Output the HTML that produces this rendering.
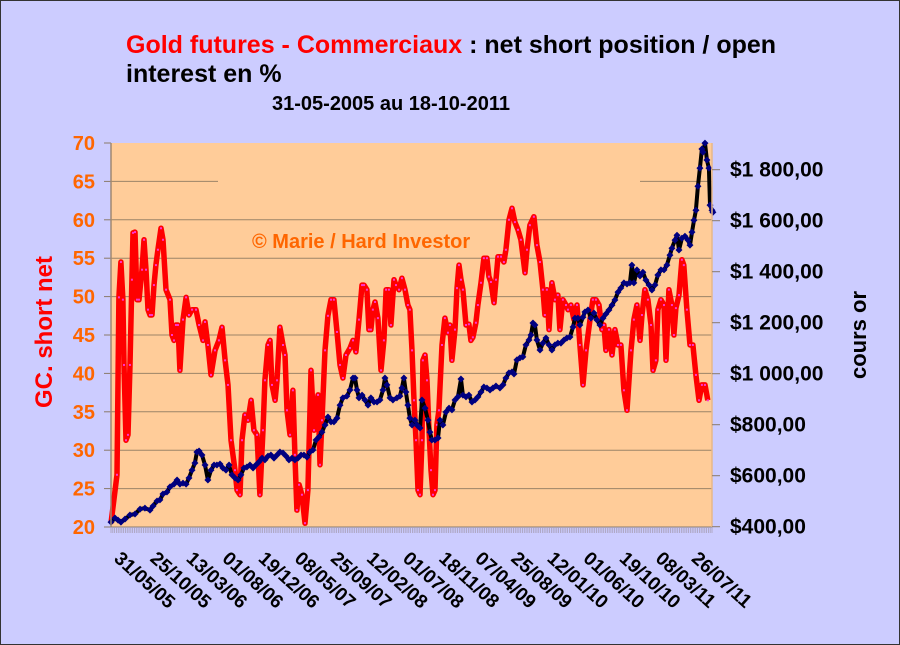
<!DOCTYPE html>
<html><head><meta charset="utf-8"><style>
html,body{margin:0;padding:0;background:#ccccff;}
svg{display:block;font-family:"Liberation Sans",Arial,sans-serif;}
</style></head><body>
<svg id="chart" width="900" height="645" viewBox="0 0 900 645" xmlns="http://www.w3.org/2000/svg">
<rect x="0.5" y="0.5" width="899" height="644" fill="#ccccff" stroke="#333" stroke-width="1"/>
<text x="126" y="53" font-size="25" font-weight="bold"><tspan fill="#ff0000">Gold futures - Commerciaux</tspan><tspan fill="#000"> : net short position / open</tspan></text>
<text x="126" y="82" font-size="25" font-weight="bold" fill="#000">interest en %</text>
<text x="272" y="110" font-size="20" font-weight="bold" fill="#000">31-05-2005 au 18-10-2011</text>
<rect x="111" y="143" width="601" height="384" fill="#ffcc99"/>
<g id="grid"></g>
<text x="252" y="248" font-size="20" font-weight="bold" fill="#ff6600">© Marie / Hard Investor</text>
<g id="series"></g>
<g id="axes"></g>
<text transform="translate(52,332) rotate(-90)" text-anchor="middle" font-size="24" font-weight="bold" fill="#ff0000">GC. short net</text>
<text transform="translate(866,335) rotate(-90)" text-anchor="middle" font-size="22" font-weight="bold" fill="#000">cours or</text>
</svg>
<script>
const xTickLabels = ["31/05/05","25/10/05","13/03/06","01/08/06","19/12/06","08/05/07","25/09/07","12/02/08","01/07/08","18/11/08","07/04/09","25/08/09","12/01/10","01/06/10","19/10/10","08/03/11","26/07/11"];
const xTickWeeks = [0,20,40,60,80,100,120,140,160,180,200,220,240,260,280,300,320];
const leftTicks = [20,25,30,35,40,45,50,55,60,65,70];
const rightTicks = [400,600,800,1000,1200,1400,1600,1800];
const rightTickLabels = ["$400,00","$600,00","$800,00","$1 000,00","$1 200,00","$1 400,00","$1 600,00","$1 800,00"];
const redWeeks = [0,3.3,4.4,5.5,6.6,7.2,8.3,9.4,10.5,11.6,12.2,13.3,14.4,15.5,17.2,18.3,19.4,20.5,21.6,22.7,23.8,24.9,26.0,27.7,28.8,30.5,32.7,33.8,34.9,36.0,37.1,38.2,39.9,41.6,43.2,44.9,47.1,48.8,51.0,52.1,53.7,55.4,57.6,59.8,61.5,63.2,64.8,66.5,68.7,69.8,71.5,72.6,74.2,75.9,77.6,79.2,80.9,82.5,84.2,85.3,87.0,88.1,89.2,90.9,92.0,93.6,95.3,96.4,97.5,99.2,100.8,101.9,103.0,104.2,105.8,107.5,109.1,110.8,112.5,114.7,115.8,116.9,118.6,120.2,121.9,123.5,125.2,126.9,128.5,130.2,132.4,134.1,135.7,137.4,139.1,140.2,141.8,142.9,144.0,145.1,146.3,147.9,149.6,151.2,152.4,154.0,155.1,156.8,157.9,159.6,161.2,162.9,164.5,165.6,166.8,167.9,169.0,170.1,171.2,172.3,172.8,174.0,175.1,176.2,177.3,178.4,179.5,180.6,181.7,183.4,185.0,186.7,187.8,188.9,190.6,191.7,192.8,193.9,195.0,196.7,198.3,199.4,200.5,202.2,203.3,205.0,206.6,208.3,209.4,210.5,212.2,213.3,214.4,216.1,217.7,218.8,220.5,222.2,223.8,225.5,227.1,229.4,230.5,232.1,234.3,236.0,237.7,239.3,240.4,241.5,242.7,244.3,246.0,247.6,248.7,250.4,252.1,253.2,254.8,256.5,258.2,259.8,261.5,263.2,265.4,267.0,268.7,270.4,272.0,273.1,274.2,275.9,277.6,279.2,280.9,282.5,284.2,285.9,288.1,289.7,291.4,293.1,294.2,295.8,297.5,299.2,300.3,301.9,303.0,304.7,306.4,307.5,309.1,310.8,311.9,313.0,314.7,316.3,317.4,319.1,320.8,322.4,324.1,325.8,327.4,329.1,330.7];
const redValues = [20.5,26.8,49.9,54.5,49.6,41.1,31.3,32.0,41.1,52.2,58.3,58.4,49.6,49.6,53.5,57.4,53.5,48.3,47.6,47.6,51.5,54.1,56.1,58.9,57.4,50.9,49.6,45.0,44.3,46.3,46.3,40.4,47.0,49.9,47.6,48.3,48.3,46.3,44.3,46.7,43.7,39.8,43.0,44.3,46.0,41.7,38.5,31.3,27.4,24.8,24.2,31.3,34.6,33.9,36.5,32.6,32.0,24.2,32.6,39.1,43.7,44.3,38.5,36.5,39.1,46.0,43.7,42.4,35.2,32.0,37.8,29.4,22.2,25.5,24.2,20.5,24.8,40.4,32.6,37.2,28.1,33.9,43.0,47.5,49.6,49.6,45.4,41.1,39.4,42.4,43.3,44.3,42.8,47.0,51.5,51.5,50.9,45.7,45.7,48.3,49.3,47.2,40.4,44.3,50.9,50.9,46.3,52.2,51.5,50.9,52.4,50.9,48.9,48.3,43.0,36.5,31.3,24.8,24.2,31.3,41.7,42.4,39.1,32.6,27.4,24.2,24.8,33.3,35.2,43.7,47.2,45.3,46.3,41.7,45.7,51.1,54.1,52.2,50.9,46.3,46.4,44.3,44.7,46.6,48.9,51.8,55.0,55.0,52.6,51.9,49.2,52.2,55.2,55.2,54.5,56.1,60.0,61.5,59.7,58.7,57.4,53.1,56.1,59.3,60.4,56.7,54.5,50.9,47.6,50.9,45.7,51.8,49.6,50.2,45.7,49.6,48.9,48.3,48.9,47.0,48.9,43.7,38.5,43.0,47.0,49.6,49.6,48.9,45.7,46.3,43.0,45.7,42.4,45.7,43.7,43.7,37.8,35.2,43.0,47.0,48.9,44.3,47.6,50.9,49.6,46.3,40.4,41.7,48.3,49.6,48.9,41.7,50.9,48.9,45.0,48.5,50.2,54.8,54.1,48.3,43.7,43.7,39.8,36.5,38.5,38.5,36.5];
const goldWeeks = [0,2.2,3.9,5.5,7.8,10.5,13.3,16.1,18.8,21.6,23.3,25.5,27.1,28.8,31.0,32.7,34.9,36.6,38.2,39.9,41.6,43.2,44.9,46.5,47.6,48.8,50.4,52.1,53.7,55.4,57.1,58.7,60.4,62.0,63.7,65.4,67.0,68.7,70.4,72.0,73.7,75.3,77.0,78.7,80.3,82.0,83.7,85.3,87.0,88.6,90.3,92.0,93.6,95.3,97.0,98.6,100.3,101.9,103.6,105.3,106.9,108.6,110.2,111.9,113.6,115.2,116.9,118.6,120.2,121.9,123.5,125.2,126.9,128.5,130.7,132.4,134.1,135.2,136.3,137.4,139.1,140.7,142.4,144.0,145.7,147.4,149.0,150.7,151.8,152.9,154.6,156.2,158.4,160.1,161.2,162.3,163.4,164.5,165.6,166.8,168.4,169.5,171.2,172.3,174.0,175.6,176.7,177.8,179.5,181.2,182.3,183.9,185.6,187.3,188.9,190.6,192.2,193.9,195.0,196.7,198.3,200.0,201.7,203.3,205.0,206.6,208.3,210.0,211.6,213.3,215.5,217.2,218.8,220.5,222.2,223.3,224.9,226.6,228.2,229.9,231.6,232.7,233.8,234.9,236.0,237.7,239.3,241.0,242.7,244.3,246.0,247.6,249.3,251.0,252.6,254.3,256.0,257.1,258.7,259.8,261.5,262.6,264.3,265.9,267.6,269.2,270.9,272.6,274.2,275.9,277.6,279.2,280.9,282.5,284.2,285.9,287.5,288.6,289.7,291.4,293.1,294.7,296.4,298.1,299.7,301.4,303.0,304.7,306.4,308.0,309.7,310.8,312.5,313.6,314.7,316.3,318.0,319.7,320.8,321.9,323.0,324.1,325.2,326.3,327.4,328.0,329.1,330.2,331.3,331.9,333.0,333.5];
const goldValues = [418,434,426,418,430,446,450,469,473,465,481,501,505,528,536,556,567,583,567,571,567,591,622,650,693,697,681,642,583,622,642,642,646,630,622,642,603,591,583,603,630,634,642,630,642,654,669,662,677,681,669,681,693,689,677,662,669,662,669,681,681,673,693,701,740,752,771,799,830,811,811,826,877,905,912,936,983,983,936,905,916,897,877,905,889,889,897,936,983,956,905,897,905,912,944,983,928,877,826,799,818,799,787,897,865,818,771,740,740,748,818,799,850,865,858,897,909,979,916,909,916,889,897,909,928,948,944,936,944,952,944,956,983,1003,1007,999,1054,1062,1066,1113,1132,1152,1199,1191,1132,1093,1120,1140,1113,1093,1113,1120,1120,1132,1140,1144,1183,1218,1218,1191,1222,1242,1250,1218,1238,1211,1191,1218,1234,1250,1269,1289,1320,1336,1356,1352,1356,1426,1356,1407,1383,1398,1367,1348,1328,1348,1387,1407,1407,1426,1465,1492,1524,1543,1485,1531,1539,1524,1504,1555,1602,1641,1735,1806,1881,1869,1904,1838,1806,1661,1641,1633];

const NS='http://www.w3.org/2000/svg';
const PX0=111, PX1=712, PY0=527, PY1=143, WMAX=333;
const xScale = w => PX0 + (w / WMAX) * (PX1 - PX0);
const yLeft = v => PY0 - (v - 20) / 50 * (PY0 - PY1);
const yRight = v => 526.7 - (v - 400) * 0.255;
function mk(tag, attrs, parent){const e=document.createElementNS(NS,tag);for(const k in attrs)e.setAttribute(k,attrs[k]);parent.appendChild(e);return e;}
const grid=document.getElementById('grid'), axes=document.getElementById('axes'), series=document.getElementById('series');

leftTicks.forEach(v=>{
  const y=yLeft(v);
  if(v===65){
    const g1=mk('line',{x1:PX0,x2:218,y1:y,y2:y,stroke:'#9c8468','stroke-width':1},grid);
    
    
    const g2=mk('line',{x1:640,x2:PX1,y1:y,y2:y,stroke:'#9c8468','stroke-width':1},grid);
    
    
  } else if(v!==70 && v!==20){
    const g=mk('line',{x1:PX0,x2:PX1,y1:y,y2:y,stroke:'#9c8468','stroke-width':1},grid);
    
    
  }
  const t=mk('line',{x1:104,x2:PX0,y1:y,y2:y,stroke:'#8a7a6a','stroke-width':1},axes);
  
  
  const l=mk('text',{x:95,y:y+7,'text-anchor':'end','font-size':20,'font-weight':'bold',fill:'#ff6600'},axes);
  l.textContent=v;
  
  
});
const ax=mk('line',{x1:PX0,x2:PX0,y1:PY1,y2:PY0,stroke:'#a08870','stroke-width':1.5},axes);


const bx=mk('line',{x1:PX0,x2:PX1,y1:PY0,y2:PY0,stroke:'#8a7a6a','stroke-width':1},axes);


const rx=mk('line',{x1:PX1,x2:PX1,y1:PY1,y2:PY0,stroke:'#e8b888','stroke-width':1.5},axes);


for(let w=0;w<=WMAX;w++){
  const x=xScale(w);
  const t=mk('line',{x1:x,x2:x,y1:PY0,y2:PY0+6,stroke:'#a8a0b8','stroke-width':0.8},axes);
  
  
}
rightTicks.forEach((v,i)=>{
  const y=yRight(v);
  const t=mk('line',{x1:PX1,x2:720,y1:y,y2:y,stroke:'#8a7a6a','stroke-width':1},axes);
  
  
  const l=mk('text',{x:730,y:y+7,'font-size':21,'font-weight':'bold',fill:'#000'},axes);
  l.textContent=rightTickLabels[i];
  
  
});
xTickLabels.forEach((s,i)=>{
  const x=xScale(xTickWeeks[i]);
  const l=mk('text',{transform:`translate(${x+2},560) rotate(42)`,'font-size':19,'font-weight':'bold',fill:'#000'},axes);
  l.textContent=s;
  
  
});

const redPts=redWeeks.map((w,i)=>xScale(w).toFixed(1)+','+yLeft(redValues[i]).toFixed(1)).join(' ');
const rl=mk('polyline',{points:redPts,fill:'none',stroke:'#ff0000','stroke-width':5.5,'stroke-linejoin':'round'},series);


redWeeks.forEach((w,i)=>{
  const d=mk('rect',{x:xScale(w)-1,y:yLeft(redValues[i])-1,width:2,height:2,fill:'#ff33cc'},series);
  
  
});
const goldPts=goldWeeks.map((w,i)=>xScale(w).toFixed(1)+','+yRight(goldValues[i]).toFixed(1)).join(' ');
const gl=mk('polyline',{points:goldPts,fill:'none',stroke:'#000','stroke-width':4,'stroke-linejoin':'round'},series);


goldWeeks.forEach((w,i)=>{
  const x=xScale(w), y=yRight(goldValues[i]);
  const d=mk('polygon',{points:`${x},${y-3.5} ${x+3.5},${y} ${x},${y+3.5} ${x-3.5},${y}`,fill:'#000080'},series);
  
  
});
</script>
</body></html>
